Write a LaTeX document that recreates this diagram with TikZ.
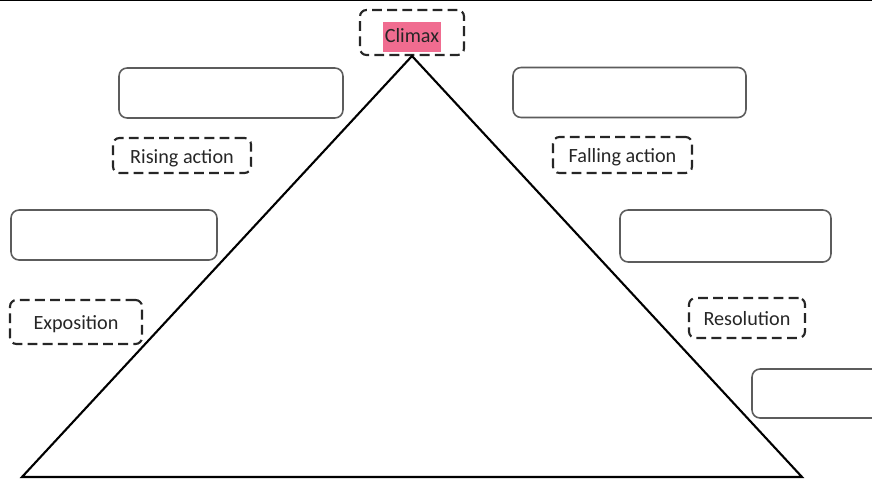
\documentclass[tikz,border=0pt]{standalone}
\usepackage{fontspec}
\setmainfont{Carlito}
\usepackage{xcolor}
\usetikzlibrary{positioning}
\definecolor{climaxpink}{HTML}{F06C90}
\definecolor{boxgray}{HTML}{5C5C5C}
\setlength{\fboxsep}{1.2pt}

\begin{document}
\begin{tikzpicture}[
        x=0.02cm, y=-0.02cm,
        answer/.style={rectangle, draw=boxgray, line width=0.9pt, rounded corners=0.16cm,
                       minimum height=1cm, inner sep=0pt},
        stage/.style={rectangle, draw=black!85, line width=1.2pt, dash pattern=on 5.6pt off 3pt,
                      rounded corners=0.13cm, font=\fontsize{11.5}{13}\selectfont, inner sep=0pt,
                      text=black!85, text height=1.9ex, text depth=0.1ex},
        line/.style={draw, line width=1.2pt, line join=miter}
    ]
    \useasboundingbox (0,0) rectangle (872,480);
    \draw [line width=1pt] (0,0.5) -- (872,0.5);

    % Climax and the triangle
    \node [stage, minimum width=2.08cm, minimum height=0.9cm, text height=2.6ex, text depth=0.3ex] (climax) at (412,32.5)
          {\colorbox{climaxpink}{\rule[-4.5pt]{0pt}{14.5pt}Climax}};
    \coordinate (apex) at (412,56);
    \coordinate (start) at (22,477);
    \coordinate (finish) at (802,477);
    \draw [line] (start) -- (apex) -- (finish) -- cycle;

    % Left side
    \node [answer, minimum width=4.48cm] (rise) at (231,93) {};
    \node [stage, minimum width=2.76cm, minimum height=0.7cm] (risinglbl) at (182,155.5) {Rising action};
    \node [answer, minimum width=4.12cm] (expo) at (114,235) {};
    \node [stage, minimum width=2.64cm, minimum height=0.88cm] (expolbl) at (76,322) {Exposition};

    % Right side
    \node [answer, minimum width=4.66cm] (fall) at (629.5,92.5) {};
    \node [stage, minimum width=2.78cm, minimum height=0.72cm] (fallinglbl) at (622.5,155) {Falling action};
    \node [answer, minimum width=4.22cm, minimum height=1.04cm] (reso) at (725.5,236) {};
    \node [stage, minimum width=2.32cm, minimum height=0.8cm] (resolbl) at (747,318) {Resolution};
    \node [answer, minimum width=3.2cm, minimum height=0.98cm] (ending) at (832,393.5) {};
\end{tikzpicture}
\end{document}
